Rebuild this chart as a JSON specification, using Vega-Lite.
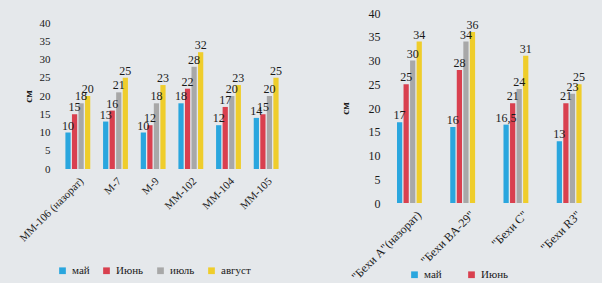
{
  "$schema": "https://vega.github.io/schema/vega-lite/v6.json",
  "background": "#e5e8eb",
  "padding": {"left": 17, "top": 7, "right": 0, "bottom": 0},
  "spacing": 54,
  "config": {
    "view": {"stroke": null},
    "font": "Liberation Serif",
    "locale": {"number": {"decimal": ",", "thousands": " ", "grouping": [3], "currency": ["", ""]}},
    "axis": {"grid": false, "ticks": false, "domain": false, "labelColor": "#1a1a1a", "labelFont": "Liberation Serif", "titleFont": "Liberation Serif", "titleColor": "#1a1a1a"},
    "legend": {"labelFont": "Liberation Serif", "labelColor": "#1a1a1a", "labelFontSize": 11, "symbolType": "square", "symbolSize": 45, "symbolStrokeWidth": 0, "title": null}
  },
  "datasets": {
    "left": [
      {"sort": "ММ-106 (назорат)", "month": "май", "value": 10},
      {"sort": "ММ-106 (назорат)", "month": "Июнь", "value": 15},
      {"sort": "ММ-106 (назорат)", "month": "июль", "value": 18},
      {"sort": "ММ-106 (назорат)", "month": "август", "value": 20},
      {"sort": "М-7", "month": "май", "value": 13},
      {"sort": "М-7", "month": "Июнь", "value": 16},
      {"sort": "М-7", "month": "июль", "value": 21},
      {"sort": "М-7", "month": "август", "value": 25},
      {"sort": "М-9", "month": "май", "value": 10},
      {"sort": "М-9", "month": "Июнь", "value": 12},
      {"sort": "М-9", "month": "июль", "value": 18},
      {"sort": "М-9", "month": "август", "value": 23},
      {"sort": "ММ-102", "month": "май", "value": 18},
      {"sort": "ММ-102", "month": "Июнь", "value": 22},
      {"sort": "ММ-102", "month": "июль", "value": 28},
      {"sort": "ММ-102", "month": "август", "value": 32},
      {"sort": "ММ-104", "month": "май", "value": 12},
      {"sort": "ММ-104", "month": "Июнь", "value": 17},
      {"sort": "ММ-104", "month": "июль", "value": 20},
      {"sort": "ММ-104", "month": "август", "value": 23},
      {"sort": "ММ-105", "month": "май", "value": 14},
      {"sort": "ММ-105", "month": "Июнь", "value": 15},
      {"sort": "ММ-105", "month": "июль", "value": 20},
      {"sort": "ММ-105", "month": "август", "value": 25}
    ],
    "right": [
      {"sort": "\"Бехи A\"(назорат)", "month": "май", "value": 17},
      {"sort": "\"Бехи A\"(назорат)", "month": "Июнь", "value": 25},
      {"sort": "\"Бехи A\"(назорат)", "month": "июль", "value": 30},
      {"sort": "\"Бехи A\"(назорат)", "month": "август", "value": 34},
      {"sort": "\"Бехи BA-29\"", "month": "май", "value": 16},
      {"sort": "\"Бехи BA-29\"", "month": "Июнь", "value": 28},
      {"sort": "\"Бехи BA-29\"", "month": "июль", "value": 34},
      {"sort": "\"Бехи BA-29\"", "month": "август", "value": 36},
      {"sort": "\"Бехи C\"", "month": "май", "value": 16.5},
      {"sort": "\"Бехи C\"", "month": "Июнь", "value": 21},
      {"sort": "\"Бехи C\"", "month": "июль", "value": 24},
      {"sort": "\"Бехи C\"", "month": "август", "value": 31},
      {"sort": "\"Бехи R3\"", "month": "май", "value": 13},
      {"sort": "\"Бехи R3\"", "month": "Июнь", "value": 21},
      {"sort": "\"Бехи R3\"", "month": "июль", "value": 23},
      {"sort": "\"Бехи R3\"", "month": "август", "value": 25}
    ],
    "spacer": [{"t": ""}]
  },
  "resolve": {"legend": {"color": "independent"}},
  "hconcat": [
    {
      "spacing": 3,
      "vconcat": [
        {"width": 1, "height": 1, "data": {"name": "spacer"}, "mark": {"type": "text", "fontSize": 1}, "encoding": {"text": {"field": "t", "type": "nominal"}}},
        {
          "width": 226,
          "height": 146,
          "data": {"name": "left"},
          "encoding": {
            "x": {"field": "sort", "type": "nominal", "sort": null, "title": null,
                  "scale": {"paddingInner": 0.34, "paddingOuter": 0.17},
                  "axis": {"labelAngle": -45, "labelFontSize": 11, "labelPadding": 6, "labelLimit": 200}},
            "xOffset": {"field": "month", "type": "nominal", "sort": ["май", "Июнь", "июль", "август"], "scale": {"paddingInner": 0.2}},
            "y": {"field": "value", "type": "quantitative", "scale": {"domain": [0, 40]},
                  "axis": {"values": [0, 5, 10, 15, 20, 25, 30, 35, 40], "title": "см", "titleFontSize": 11, "titleFontWeight": "bold", "labelFontSize": 11, "labelPadding": 9, "titlePadding": 6}}
          },
          "layer": [
            {"mark": {"type": "bar"},
             "encoding": {"color": {"field": "month", "type": "nominal", "sort": ["май", "Июнь", "июль", "август"],
               "scale": {"domain": ["май", "Июнь", "июль", "август"], "range": ["#2aa6de", "#d9404f", "#a8a8a8", "#efcd2b"]},
               "legend": {"orient": "none", "direction": "horizontal", "legendX": -2, "legendY": 252, "columnPadding": 11}}}},
            {"mark": {"type": "text", "dy": -7, "fontSize": 12, "font": "Liberation Serif", "color": "#1a1a1a"},
             "encoding": {"text": {"field": "value", "type": "quantitative", "format": "~g"}}}
          ]
        }
      ]
    },
    {
      "width": 213,
      "height": 190,
      "data": {"name": "right"},
      "encoding": {
        "x": {"field": "sort", "type": "nominal", "sort": null, "title": null,
              "scale": {"paddingInner": 0.3, "paddingOuter": 0.15},
              "axis": {"labelAngle": -45, "labelFontSize": 12, "labelPadding": 6, "labelLimit": 200}},
        "xOffset": {"field": "month", "type": "nominal", "sort": ["май", "Июнь", "июль", "август"], "scale": {"paddingInner": 0.2}},
        "y": {"field": "value", "type": "quantitative", "scale": {"domain": [0, 40]},
              "axis": {"values": [0, 5, 10, 15, 20, 25, 30, 35, 40], "title": "см", "titleFontSize": 11, "titleFontWeight": "bold", "labelFontSize": 12, "labelPadding": 9, "titlePadding": 18}}
      },
      "layer": [
        {"mark": {"type": "bar"},
         "encoding": {"color": {"field": "month", "type": "nominal", "sort": ["май", "Июнь", "июль", "август"],
           "scale": {"domain": ["май", "Июнь", "июль", "август"], "range": ["#2aa6de", "#d9404f", "#a8a8a8", "#efcd2b"]},
           "legend": {"orient": "none", "direction": "horizontal", "legendX": 20, "legendY": 256, "columnPadding": 24, "values": ["май", "Июнь"]}}}},
        {"mark": {"type": "text", "dy": -7, "fontSize": 12, "font": "Liberation Serif", "color": "#1a1a1a"},
         "encoding": {"text": {"field": "value", "type": "quantitative", "format": "~g"}}}
      ]
    }
  ]
}
